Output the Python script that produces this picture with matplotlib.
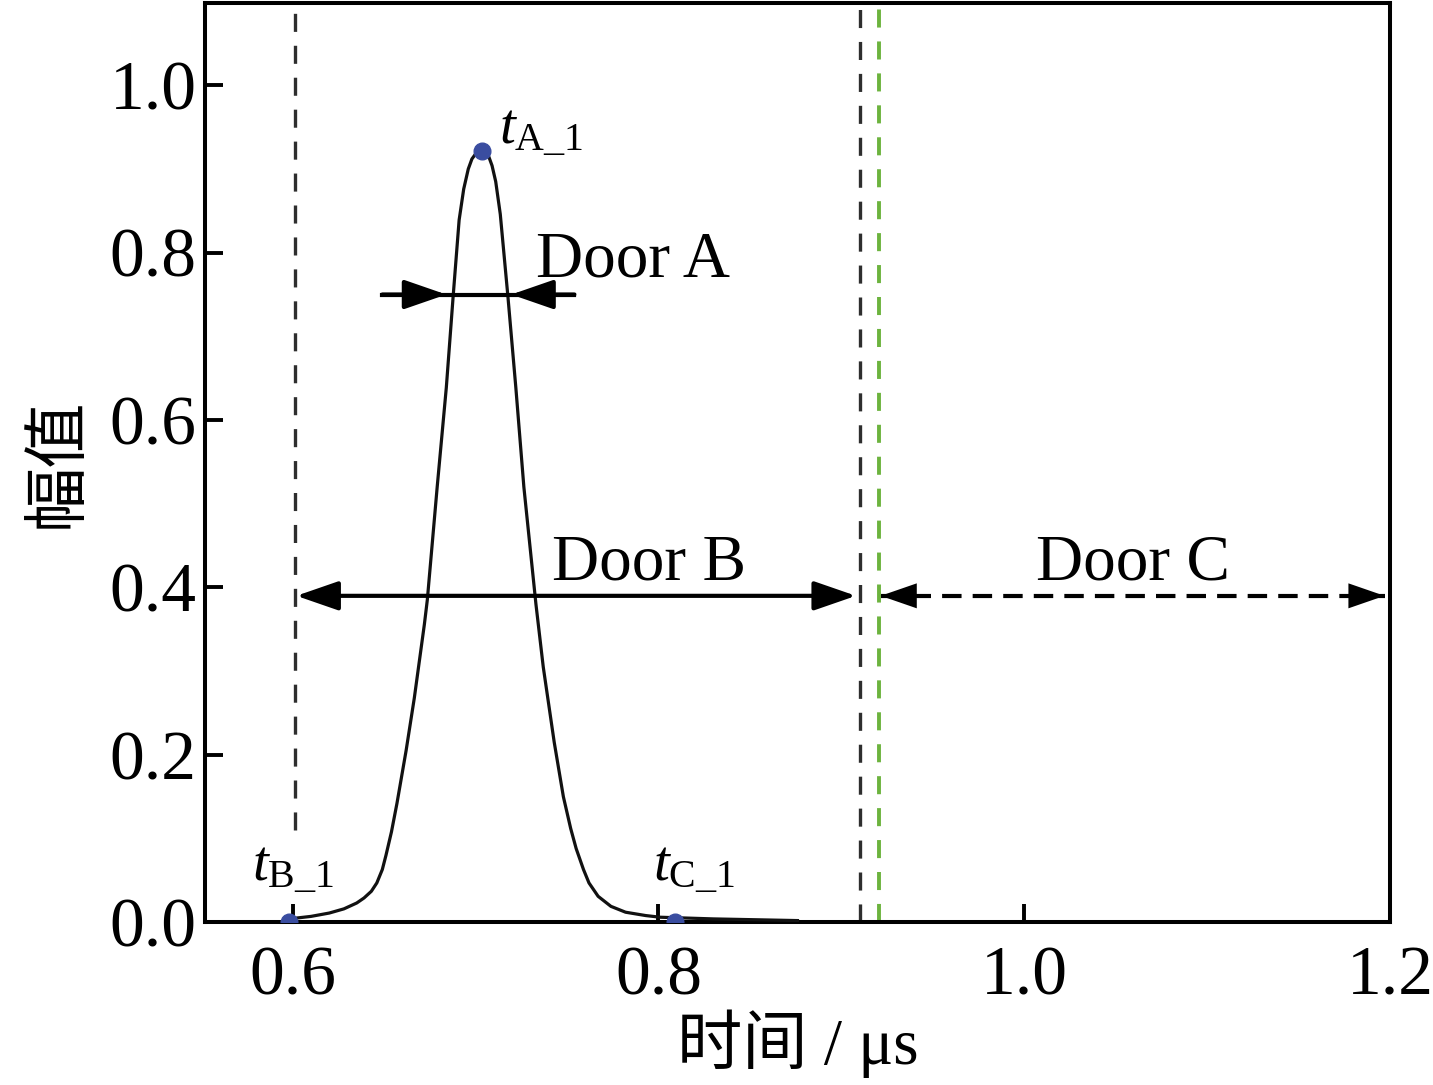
import matplotlib
matplotlib.use("Agg")
import matplotlib.pyplot as plt
from matplotlib.patches import FancyArrowPatch

plt.rcParams['font.family'] = ['Liberation Serif', 'Noto Sans CJK SC']
plt.rcParams['mathtext.fontset'] = 'custom'
plt.rcParams['mathtext.rm'] = 'Liberation Serif'
plt.rcParams['mathtext.it'] = 'Liberation Serif:italic'
plt.rcParams['lines.scale_dashes'] = False

# pulse (time in us, amplitude)
t_us = [0.598, 0.602, 0.610, 0.620, 0.628, 0.635, 0.639, 0.643, 0.646, 0.649,
        0.651, 0.654, 0.657, 0.662, 0.6665, 0.672, 0.6736, 0.679, 0.684, 0.6877,
        0.691, 0.6935, 0.696, 0.698, 0.700, 0.7018, 0.7035, 0.705, 0.707, 0.709,
        0.711, 0.7135, 0.7177, 0.722, 0.7264, 0.733, 0.737, 0.743, 0.748, 0.752,
        0.755, 0.759, 0.762, 0.767, 0.774, 0.782, 0.793, 0.801, 0.830, 0.876]
amp = [0.004, 0.005, 0.007, 0.011, 0.016, 0.023, 0.029, 0.037, 0.047, 0.063,
       0.080, 0.108, 0.142, 0.205, 0.268, 0.356, 0.385, 0.520, 0.639, 0.747,
       0.839, 0.876, 0.900, 0.912, 0.918, 0.921, 0.922, 0.921, 0.916, 0.904,
       0.885, 0.846, 0.747, 0.639, 0.520, 0.380, 0.305, 0.215, 0.150, 0.112,
       0.088, 0.063, 0.047, 0.031, 0.019, 0.012, 0.008, 0.006, 0.004, 0.002]

# marked points
pt_names = ['A', 'B', 'C']
pt_t = [0.7035, 0.598, 0.809]
pt_amp = [0.922, 0.0, 0.0]

# gate boundaries
gate_b_start = 0.601
gate_b_end = 0.910
gate_c_start = 0.9205
gate_b_line_bottom = 0.11

# door arrows
door_a_y = 0.75
door_a_outer = [0.649, 0.754]
door_a_tips = [0.684, 0.7195]
door_bc_y = 0.39
door_b_span = [0.602, 0.908]
door_c_span = [0.9215, 1.197]

xticks = [0.6, 0.8, 1.0, 1.2]
yticks = [0.0, 0.2, 0.4, 0.6, 0.8, 1.0]

fig = plt.figure(figsize=(14.33, 10.85), dpi=100)
ax = fig.add_axes([0.143, 0.150, 0.827, 0.847])

dark = '#2e2e2e'
ax.plot([gate_b_start, gate_b_start], [gate_b_line_bottom, 1.1], color=dark, lw=2.4,
        dashes=(13, 10), zorder=2)
ax.axvline(gate_b_end, color=dark, lw=2.4, dashes=(13, 10), zorder=2)
ax.axvline(gate_c_start, color='#6cb33e', lw=2.8, dashes=(13, 10), zorder=2)

ax.plot(t_us, amp, color='#111111', lw=2.3, zorder=3, solid_joinstyle='round')
ax.plot(pt_t, pt_amp, 'o', color='#3a4da0', ms=12, zorder=4)

head = 'head_length=26,head_width=9'


def arrow(x0, x1, y, style='-|>', lw=3.0):
    a = FancyArrowPatch((x0, y), (x1, y), arrowstyle=f'{style},{head}',
                        mutation_scale=1, color='black', lw=lw,
                        shrinkA=0, shrinkB=0, zorder=5)
    ax.add_patch(a)


ax.plot(door_a_outer, [door_a_y, door_a_y], color='black', lw=3.0, zorder=5)
arrow(door_a_outer[0], door_a_tips[0], door_a_y)
arrow(door_a_outer[1], door_a_tips[1], door_a_y)
arrow(door_b_span[0], door_b_span[1], door_bc_y, style='<|-|>')
# door C: dashed shaft, solid heads
ax.plot(door_c_span, [door_bc_y, door_bc_y], color='black', lw=3.0,
        dashes=(14, 8), zorder=5)
arrow(door_c_span[0], door_c_span[1], door_bc_y, style='<|-|>', lw=0)

fs = 47
ax.text(0.733, 0.771, 'Door A', fontsize=fs, ha='left', va='baseline')
ax.text(0.795, 0.409, 'Door B', fontsize=fs, ha='center', va='baseline')
ax.text(1.0594, 0.409, 'Door C', fontsize=fs, ha='center', va='baseline')

ax.text(0.7128, 0.931, r'$t_{\mathrm{A\_1}}$', fontsize=41, ha='left', va='baseline')
ax.text(0.6, 0.05, r'$t_{\mathrm{B\_1}}$', fontsize=41, ha='center', va='baseline')
ax.text(0.8196, 0.05, r'$t_{\mathrm{C\_1}}$', fontsize=41, ha='center', va='baseline')

ax.set_xlim(0.552, 1.198)
ax.set_ylim(0, 1.098)
ax.set_xticks(xticks)
ax.set_yticks(yticks)
ax.set_xticklabels([f'{v:.1f}' for v in xticks])
ax.set_yticklabels([f'{v:.1f}' for v in yticks])
ax.tick_params(direction='in', length=13, width=2.8, labelsize=50,
               top=False, right=False)
ax.tick_params(axis='x', pad=17)
ax.tick_params(axis='y', pad=6)
for s in ax.spines.values():
    s.set_linewidth(2.9)

ax.set_xlabel('时间 / μs', fontsize=47, labelpad=0)
ax.set_ylabel('幅值', fontsize=47, labelpad=14)

fig.savefig('out.png', dpi=100)
